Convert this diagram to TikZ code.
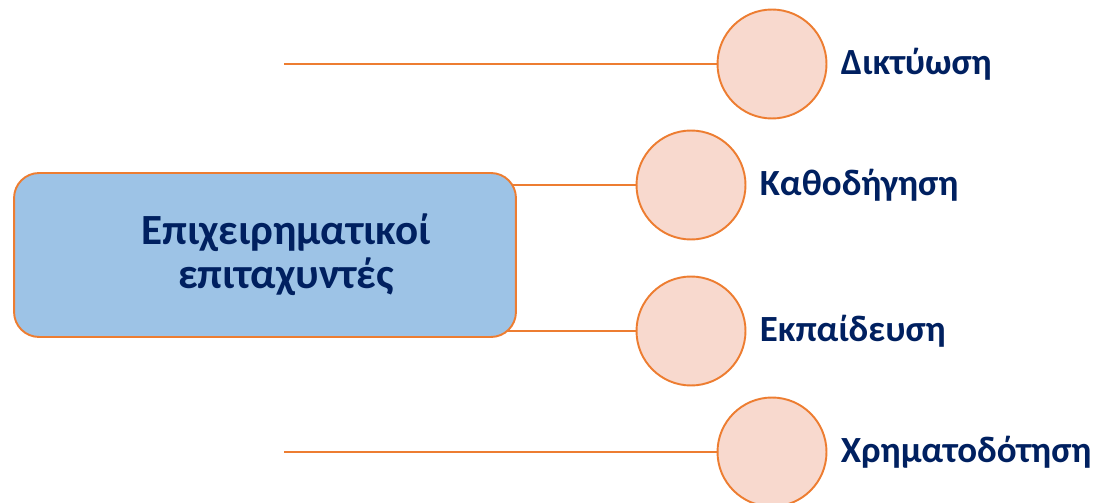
\documentclass[tikz,border=0pt]{standalone}
\usepackage{fontspec}
\setmainfont{Carlito}
\usetikzlibrary{positioning}
\usetikzlibrary{backgrounds}
\definecolor{edgeorange}{HTML}{ED7D31}
\definecolor{bubblefill}{HTML}{F8D9CE}
\definecolor{hubfill}{HTML}{9DC3E6}
\definecolor{navy}{HTML}{002060}
\tikzstyle{bubble}=[circle,fill=bubblefill,draw=edgeorange,line width=1.1pt,minimum size=2.18cm,inner sep=0pt]
\tikzstyle{hub}=[rectangle,rounded corners=0.5cm,fill=hubfill,draw=edgeorange,line width=1.1pt,minimum width=10.04cm,minimum height=3.28cm,align=center,text=navy,font=\bfseries\fontsize{24.5}{25}\selectfont]
\tikzstyle{link} = [draw,edgeorange,line width=1.1pt]
\tikzstyle{tag} = [text=navy,font=\bfseries\fontsize{21}{25}\selectfont,inner sep=0pt]

\begin{document}
\begin{tikzpicture}[x=0.02cm,y=-0.02cm]
    \useasboundingbox (0,0) rectangle (1095,503);

    \node[hub] (firms) at (265,255) {\hspace{24pt}Επιχειρηματικοί\\\hspace{24pt}επιταχυντές};

    \foreach \pos/\name/\label in {{(772,64)/net/Δικτύωση}, {(691,185)/mentor/Καθοδήγηση}, {(691,331)/train/Εκπαίδευση}, {(772,452)/fund/Χρηματοδότηση}}
        \node[bubble] (\name) at \pos {};

    \foreach \name/\label in {net/Δικτύωση, mentor/Καθοδήγηση, train/Εκπαίδευση, fund/Χρηματοδότηση}
        \node[tag, right=0.26cm of \name] (\name-tag) {\label};

    \coordinate (netend) at (284,64);
    \coordinate (fundend) at (284,452);

    \begin{scope}[on background layer]
    \foreach \source/\dest in {netend/net, fundend/fund}
        \path[link] (\source) -- (\dest);
    \foreach \dest in {mentor, train}
        \path[link] (firms.center |- \dest) -- (\dest);
    \end{scope}

\end{tikzpicture}
\end{document}
